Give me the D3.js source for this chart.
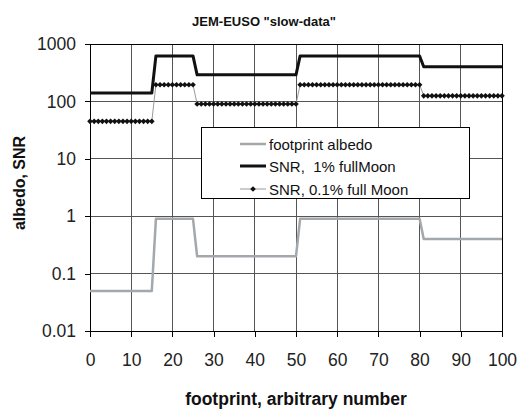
<!DOCTYPE html>
<html>
<head>
<meta charset="utf-8">
<script src="https://cdn.jsdelivr.net/npm/d3@7"></script>
<style>
  html, body { margin: 0; padding: 0; background: #fff; }
  svg { display: block; font-family: "Liberation Sans", Arial, sans-serif; }
  text { white-space: pre; }
</style>
</head>
<body>
<svg id="chart" width="518" height="411"></svg>
<script>
// ---- data ----
const footprint = d3.range(0, 101); // footprint numbers 0..100
const albedo = [
  0.05,0.05,0.05,0.05,0.05,0.05,0.05,0.05,0.05,0.05,0.05,0.05,0.05,0.05,0.05,0.05,
  0.9,0.9,0.9,0.9,0.9,0.9,0.9,0.9,0.9,0.9,
  0.2,0.2,0.2,0.2,0.2,0.2,0.2,0.2,0.2,0.2,0.2,0.2,0.2,0.2,0.2,0.2,0.2,0.2,0.2,0.2,0.2,0.2,0.2,0.2,0.2,
  0.9,0.9,0.9,0.9,0.9,0.9,0.9,0.9,0.9,0.9,0.9,0.9,0.9,0.9,0.9,0.9,0.9,0.9,0.9,0.9,0.9,0.9,0.9,0.9,0.9,0.9,0.9,0.9,0.9,0.9,
  0.4,0.4,0.4,0.4,0.4,0.4,0.4,0.4,0.4,0.4,0.4,0.4,0.4,0.4,0.4,0.4,0.4,0.4,0.4,0.4
];
const snr1 = [
  140,140,140,140,140,140,140,140,140,140,140,140,140,140,140,140,
  620,620,620,620,620,620,620,620,620,620,
  290,290,290,290,290,290,290,290,290,290,290,290,290,290,290,290,290,290,290,290,290,290,290,290,290,
  620,620,620,620,620,620,620,620,620,620,620,620,620,620,620,620,620,620,620,620,620,620,620,620,620,620,620,620,620,620,
  400,400,400,400,400,400,400,400,400,400,400,400,400,400,400,400,400,400,400,400
];
const snr01 = [
  45,45,45,45,45,45,45,45,45,45,45,45,45,45,45,45,
  195,195,195,195,195,195,195,195,195,195,
  90,90,90,90,90,90,90,90,90,90,90,90,90,90,90,90,90,90,90,90,90,90,90,90,90,
  195,195,195,195,195,195,195,195,195,195,195,195,195,195,195,195,195,195,195,195,195,195,195,195,195,195,195,195,195,195,
  125,125,125,125,125,125,125,125,125,125,125,125,125,125,125,125,125,125,125,125
];
const xTicks = [0,10,20,30,40,50,60,70,80,90,100];
const yTicks = [0.01,0.1,1,10,100,1000];
const yTickLabels = ["0.01","0.1","1","10","100","1000"];
const seriesNames = ["footprint albedo","SNR,  1% fullMoon","SNR, 0.1% full Moon"];
const titleText = 'JEM-EUSO "slow-data"';
const xTitle = "footprint, arbitrary number";
const yTitle = "albedo, SNR";

// ---- layout ----
const svg = d3.select("#chart");
const L = 90, R = 502, T = 44, B = 331;
const x = d3.scaleLinear().domain([0, 100]).range([L, R]);
const y = d3.scaleLog().domain([0.01, 1000]).range([B, T]);
const FONT = '"Liberation Sans", Arial, sans-serif';

// gridlines
const grid = svg.append("g").attr("shape-rendering", "crispEdges");
grid.selectAll("line.v").data(xTicks.slice(1)).join("line")
  .attr("x1", d => x(d)).attr("x2", d => x(d)).attr("y1", T).attr("y2", B)
  .attr("stroke", "#555").attr("stroke-width", 1);
grid.selectAll("line.h").data(yTicks.slice(1)).join("line")
  .attr("x1", L).attr("x2", R).attr("y1", d => y(d)).attr("y2", d => y(d))
  .attr("stroke", "#555").attr("stroke-width", 1);

// axes
const xAxis = d3.axisBottom(x).tickValues(xTicks).tickSize(6).tickPadding(17).tickFormat(d3.format("d"));
const yAxis = d3.axisLeft(y).tickValues(yTicks).tickSize(5).tickPadding(9)
  .tickFormat((d, i) => yTickLabels[i]);
const gx = svg.append("g").attr("transform", `translate(0,${B})`).call(xAxis);
const gy = svg.append("g").attr("transform", `translate(${L},0)`).call(yAxis);
[gx, gy].forEach(g => {
  g.select(".domain").attr("stroke", "#000").attr("shape-rendering", "crispEdges");
  g.selectAll(".tick line").attr("stroke", "#000").attr("shape-rendering", "crispEdges");
  g.selectAll(".tick text").attr("fill", "#222").attr("font-size", 17.5).attr("font-family", FONT);
});
// top/right frame
svg.append("line").attr("x1", L).attr("x2", R).attr("y1", T).attr("y2", T)
  .attr("stroke", "#000").attr("shape-rendering", "crispEdges");
svg.append("line").attr("x1", R).attr("x2", R).attr("y1", T).attr("y2", B)
  .attr("stroke", "#000").attr("shape-rendering", "crispEdges");

// series
const pts = arr => footprint.map((f, i) => [f, arr[i]]);
const line = d3.line().x(d => x(d[0])).y(d => y(d[1]));

svg.append("path").datum(pts(albedo)).attr("d", line)
  .attr("fill", "none").attr("stroke", "#a3a8ad").attr("stroke-width", 2.5)
  .attr("stroke-linejoin", "round");
svg.append("path").datum(pts(snr01)).attr("d", line)
  .attr("fill", "none").attr("stroke", "#999").attr("stroke-width", 1);
svg.append("path").datum(pts(snr1)).attr("d", line)
  .attr("fill", "none").attr("stroke", "#111").attr("stroke-width", 3)
  .attr("stroke-linejoin", "round");
const marker = d3.symbol().type(d3.symbolSquare).size(16);
svg.append("g").selectAll("path").data(pts(snr01)).join("path")
  .attr("transform", d => `translate(${x(d[0])},${y(d[1])}) rotate(45)`)
  .attr("d", marker).attr("fill", "#111");

// legend
const lg = svg.append("g");
lg.append("rect").attr("x", 201.5).attr("y", 127.5).attr("width", 268).attr("height", 71)
  .attr("fill", "#fff").attr("stroke", "#000").attr("stroke-width", 1);
const rows = [150, 172, 195];
const lx1 = 240, lx2 = 266;
lg.append("line").attr("x1", lx1).attr("x2", lx2).attr("y1", rows[0] - 6).attr("y2", rows[0] - 6)
  .attr("stroke", "#a3a8ad").attr("stroke-width", 2.5);
lg.append("line").attr("x1", lx1).attr("x2", lx2).attr("y1", rows[1] - 6).attr("y2", rows[1] - 6)
  .attr("stroke", "#111").attr("stroke-width", 3);
lg.append("line").attr("x1", lx1).attr("x2", lx2).attr("y1", rows[2] - 6).attr("y2", rows[2] - 6)
  .attr("stroke", "#999").attr("stroke-width", 1);
lg.append("path").attr("transform", `translate(${(lx1 + lx2) / 2},${rows[2] - 6}) rotate(45)`)
  .attr("d", marker).attr("fill", "#111");
lg.selectAll("text").data(seriesNames).join("text")
  .attr("x", 269).attr("y", (d, i) => rows[i])
  .attr("font-size", 15).attr("fill", "#111").text(d => d);

// titles
svg.append("text").attr("x", 264).attr("y", 26).attr("text-anchor", "middle")
  .attr("font-size", 13).attr("font-weight", "bold").attr("fill", "#111").text(titleText);
svg.append("text").attr("x", 296).attr("y", 405).attr("text-anchor", "middle")
  .attr("font-size", 17.5).attr("font-weight", "bold").attr("fill", "#111").text(xTitle);
svg.append("text").attr("transform", `translate(25,183) rotate(-90)`).attr("text-anchor", "middle")
  .attr("font-size", 16).attr("font-weight", "bold").attr("fill", "#111").text(yTitle);
</script>
</body>
</html>
